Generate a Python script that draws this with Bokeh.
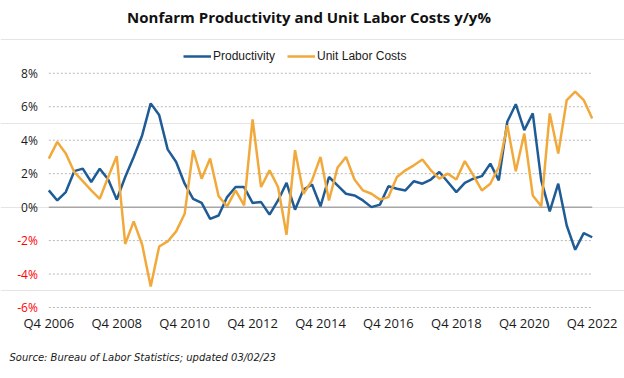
from bokeh.plotting import figure
from bokeh.models import (ColumnDataSource, FixedTicker, Label, Legend, LegendItem,
                          Range1d, Title)
from bokeh.core.properties import value
from bokeh.embed import file_html
from bokeh.resources import INLINE

# ---- data -------------------------------------------------------------
quarters = [f"Q{q} {y}" for y in range(2006, 2023) for q in (1, 2, 3, 4)][3:]  # Q4 2006 .. Q4 2022

productivity = [1.0, 0.4, 0.9, 2.15, 2.3, 1.5, 2.3, 1.65, 0.45, 1.8,
                3.0, 4.3, 6.2, 5.5, 3.45, 2.7, 1.4, 0.5, 0.25, -0.7,
                -0.5, 0.6, 1.2, 1.2, 0.25, 0.3, -0.45, 0.4, 1.45, -0.15,
                1.05, 1.35, 0.05, 1.8, 1.3, 0.8, 0.7, 0.4, 0.0, 0.15,
                1.25, 1.1, 1.0, 1.55, 1.4, 1.65, 2.1, 1.5, 0.9, 1.45,
                1.7, 1.85, 2.6, 1.6, 5.1, 6.15, 4.6, 5.6, 1.6, -0.25,
                1.4, -1.1, -2.55, -1.55, -1.8]

unit_labor_costs = [2.9, 3.9, 3.2, 2.1, 1.55, 1.0, 0.5, 1.8, 3.05, -2.2,
                    -0.85, -2.25, -4.75, -2.35, -2.05, -1.45, -0.4, 3.4, 1.7, 2.9,
                    0.65, 0.05, 1.0, 0.1, 5.25, 1.2, 2.2, 1.2, -1.65, 3.4,
                    0.8, 1.6, 3.0, 0.4, 2.35, 3.0, 1.65, 1.0, 0.8, 0.45,
                    0.6, 1.8, 2.2, 2.5, 2.85, 2.2, 1.7, 2.0, 1.65, 2.75,
                    1.9, 1.0, 1.4, 2.4, 4.9, 2.15, 4.4, 0.7, 0.05, 5.6,
                    3.2, 6.4, 6.9, 6.4, 5.3]

x_tick_labels = ["Q4 2006", "Q4 2008", "Q4 2010", "Q4 2012", "Q4 2014",
                 "Q4 2016", "Q4 2018", "Q4 2020", "Q4 2022"]
y_tick_values = [-6, -4, -2, 0, 2, 4, 6, 8]
y_tick_labels = ["-6%", "-4%", "-2%", "0%", "2%", "4%", "6%", "8%"]

# ---- layout constants (pixels) -----------------------------------------
W, H = 624, 378
PLOT_L, PLOT_R = 48.3, 591.7      # where first / last quarter sit
PLOT_T, PLOT_B = 73.0, 308.0      # where 8% / -6% sit
FRAME_B = 317                     # frame bottom (a little below -6% so its label shows)

n = len(quarters)
xs = list(range(n))
ppx = (PLOT_R - PLOT_L) / (n - 1)
x0 = -PLOT_L / ppx
x1 = (n - 1) + (W - PLOT_R) / ppx
ymin, ymax = min(y_tick_values), max(y_tick_values)
ppy = (PLOT_B - PLOT_T) / (ymax - ymin)
y1 = ymax + PLOT_T / ppy
y0 = ymin - (FRAME_B - PLOT_B) / ppy

x_tick_pos = [quarters.index(lbl) for lbl in x_tick_labels]

src = ColumnDataSource(dict(x=xs, prod=productivity, ulc=unit_labor_costs, q=quarters))

p = figure(width=W, height=H, output_backend="svg", toolbar_location=None,
           x_range=Range1d(x0, x1), y_range=Range1d(y0, y1),
           y_axis_location=None,
           min_border_left=0, min_border_right=0, min_border_top=0,
           min_border_bottom=H - FRAME_B)
p.outline_line_color = None
p.background_fill_color = "white"
p.border_fill_color = "white"
p.xgrid.visible = False

# horizontal gridlines
grid_vals = [v for v in y_tick_values if v != 0]
p.segment(x0=[0] * len(grid_vals), x1=[n - 1] * len(grid_vals), y0=grid_vals, y1=grid_vals,
          line_color="#B8B8B8", line_dash="2 2", line_width=1)
p.segment(x0=[0], x1=[n - 1], y0=[0], y1=[0], line_color="#A6A6A6", line_width=1.5)

# x axis
p.xaxis.ticker = FixedTicker(ticks=x_tick_pos)
p.xaxis.major_label_overrides = {pos: lbl for pos, lbl in zip(x_tick_pos, x_tick_labels)}
p.xaxis.axis_line_color = None
p.xaxis.major_tick_line_color = None
p.xaxis.minor_tick_line_color = None
p.xaxis.major_tick_out = 0
p.xaxis.major_tick_in = 0
p.xaxis.major_label_standoff = -3
p.xaxis.major_label_text_font = "Open Sans"
p.xaxis.major_label_text_font_size = "13px"
p.xaxis.major_label_text_color = "#1a1a1a"

# y tick labels (negative ones in red)
ylab_src = ColumnDataSource(dict(
    x=[0] * len(y_tick_values), y=y_tick_values, text=y_tick_labels,
    color=["#FF0000" if v < 0 else "#1a1a1a" for v in y_tick_values]))
p.text(x="x", y="y", text="text", source=ylab_src, x_offset=-11,
       text_align="right", text_baseline="middle", text_color="color",
       text_font=value("Open Sans"), text_font_size=value("12px"))

r1 = p.line("x", "prod", source=src, line_color="#1F5C96", line_width=2.5)
r2 = p.line("x", "ulc", source=src, line_color="#F2A93B", line_width=2.5)

frame_h = FRAME_B
legend = Legend(items=[LegendItem(label="Productivity", renderers=[r1]),
                       LegendItem(label="Unit Labor Costs", renderers=[r2])],
                location=(183, frame_h - 64), orientation="horizontal",
                glyph_width=28, glyph_height=14, label_height=14, label_standoff=2,
                spacing=12, padding=0, margin=0, border_line_color=None,
                background_fill_alpha=0, label_text_font="Liberation Sans",
                label_text_font_size="12px", label_text_color="#1a1a1a")
p.add_layout(legend)

p.add_layout(Label(x=308.5, y=frame_h - 17, x_units="screen", y_units="screen",
                   text="Nonfarm Productivity and Unit Labor Costs y/y%",
                   text_align="center", text_baseline="middle",
                   text_font="Open Sans", text_font_style="bold", text_font_size="15px",
                   text_color="#111111"))

p.add_layout(Title(text="Source: Bureau of Labor Statistics; updated 03/02/23",
                   align="left", offset=9, standoff=31,
                   text_font="DejaVu Sans", text_font_style="italic",
                   text_font_size="10px", text_color="#1a1a1a"), "below")

open("out.html", "w").write(file_html(p, INLINE))
